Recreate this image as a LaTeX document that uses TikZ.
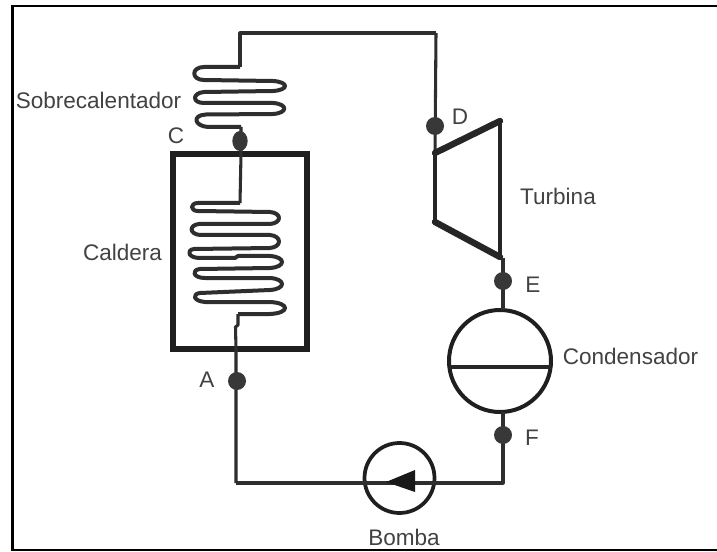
\documentclass[tikz,border=0pt]{standalone}
\usepackage{fontspec}
\setmainfont{Liberation Sans}
\usetikzlibrary{shapes.geometric}
\tikzset{
 pipe/.style={draw=black!82,line width=2.3pt,line join=round},
 coil/.style={draw=black!82,line width=3pt,line join=round},
 wall/.style={draw=black!88,line width=4pt},
 dotn/.style={circle,fill=black!78,inner sep=0pt,minimum size=13.5pt},
 lab/.style={text=black!74,font=\fontsize{16.9}{19}\selectfont,inner sep=0pt},
 shell/.style={circle,draw=black!88,line width=3pt,fill=white,inner sep=0pt}
}
\begin{document}
\begin{tikzpicture}[x=0.75pt,y=-0.75pt]
\useasboundingbox (0,0) rectangle (717,552);
\fill[white] (0,0) rectangle (717,552);
\draw[black,line width=1.9pt] (717,6) -- (12.5,6) -- (12.5,550) -- (717,550);
\coordinate (supTop) at (240,33);
\coordinate (turTop) at (436,33);
\coordinate (pipeCorner) at (503,483);
\coordinate (leftCorner) at (236,483);
% boiler
\draw[wall] (173,154) rectangle (307,349);
% superheater coil
\draw[coil] (240,67) -- (204,67) .. controls (191,67) and (191,80) .. (204,80) -- (273,81) .. controls (289,82) and (289,90) .. (273,91) -- (204,92) .. controls (192,93) and (192,103) .. (204,103) -- (273,103) .. controls (288,104) and (288,113) .. (273,114) -- (206,114.5) .. controls (192,115) and (194,126) .. (208,127) -- (241,127);
% boiler coil
\draw[coil] (240,203) -- (198,203) .. controls (190,203) and (190,211) .. (198,211) -- (270,212) .. controls (282,213) and (282,223) .. (270,224) -- (199,224) .. controls (189,225) and (189,234) .. (200,235) -- (270,235) .. controls (282,236) and (282,247) .. (270,248) -- (194,249) .. controls (186,250) and (188,258) .. (200,258) -- (235,258) -- (238,256) -- (270,256) .. controls (286,257) and (286,267) .. (270,268) -- (200,269) .. controls (191,270) and (193,278) .. (205,278) -- (270,278) .. controls (286,279) and (286,289) .. (270,290) -- (200,293) .. controls (192,294) and (193,301) .. (205,302) -- (270,302) .. controls (290,303) and (290,313) .. (270,314) -- (238,314);
% pipes
\draw[pipe] (241,127) -- (241,154) -- (240,203);
\draw[pipe] (240,67) -- (supTop) -- (turTop);
\draw[pipe] (238,314) -- (238,325) -- (235.5,327) -- (236,349) -- (leftCorner);
% turbine
\coordinate (tA) at (435,153);
\coordinate (tB) at (500,121);
\coordinate (tC) at (500,257);
\coordinate (tD) at (435,222);
\draw[pipe] (turTop) -- (tA);
\draw[draw=black!85,line width=3.2pt,line join=round] (tA) -- (tD) (tB) -- (tC);
\draw[draw=black!85,line width=4.8pt,line cap=round] (tA) -- (tB);
\draw[draw=black!85,line width=4.8pt,line cap=round] (tC) -- (tD);
% condenser
\node[shell,minimum size=76.5pt] (cond) at (500,361) {};
\draw[pipe] (503,258) -- (503,310);
\draw[draw=black!85,line width=2.6pt] (449.5,367) -- (550.5,367);
% pump
\node[shell,minimum size=52.5pt,line width=2.8pt] (pump) at (399.5,478) {};
\draw[pipe] (503,412) -- (pipeCorner) -- (364,483);
\draw[pipe] (364,483) -- (leftCorner);
\fill[black!90] (386,482) -- (415,470) -- (415,492) -- cycle;
% dots
\node[ellipse,fill=black!78,inner sep=0pt,minimum width=11.5pt,minimum height=15pt] (C) at (240,141) {};
\node[dotn] (D) at (435,126) {};
\node[dotn] (E) at (503,281) {};
\node[dotn] (A) at (237,381) {};
\node[dotn] (F) at (503,435) {};
% labels
\node[lab] (l1) at (98.5,100) {Sobrecalentador};
\node[lab] (lC) at (176,136) {C};
\node[lab] (lD) at (460,117) {D};
\node[lab] (lE) at (533,285) {E};
\node[lab] (lA) at (207,380) {A};
\node[lab] (lF) at (532,438) {F};
\node[lab] (l2) at (122.5,252) {Caldera};
\node[lab] (l3) at (558,196) {Turbina};
\node[lab] (l4) at (630.5,356) {Condensador};
\node[lab] (l5) at (404,537) {Bomba};
\end{tikzpicture}
\end{document}
